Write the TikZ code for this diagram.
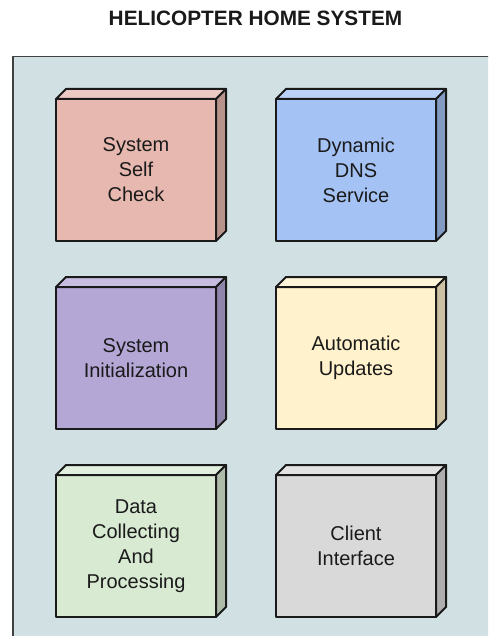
\documentclass[tikz,border=0pt]{standalone}
\usepackage{fontspec}
\setmainfont{Liberation Sans}

\definecolor{panel}{HTML}{D0E0E3}
\definecolor{pinkbox}{HTML}{E6B8AF}
\definecolor{bluebox}{HTML}{A4C2F4}
\definecolor{purplebox}{HTML}{B4A7D6}
\definecolor{yellowbox}{HTML}{FFF2CC}
\definecolor{greenbox}{HTML}{D9EAD3}
\definecolor{graybox}{HTML}{D9D9D9}
\definecolor{inkline}{HTML}{1A1A1A}
\definecolor{inktext}{HTML}{1A1A1A}

% A 3D box: front face as a named node, top and right faces drawn from its anchors
\newcommand\cubebox[4]{%
  \node[boxface, fill=#3] (#1) at (#2) {#4};
  \draw[boxedge, fill=#3!75!white]
    (#1.north west) -- ++(10,-10) -- ++(160,0) -- (#1.north east) -- cycle;
  \draw[boxedge, fill=#3!80!black]
    (#1.north east) -- ++(10,-10) -- ++(0,142) -- (#1.south east) -- cycle;
}

\begin{document}
\begin{tikzpicture}[x=1pt, y=-1pt, line join=round,
  boxedge/.style={draw=inkline, line width=2pt},
  boxface/.style={boxedge, rectangle, minimum width=160pt, minimum height=142pt,
    inner sep=0pt, outer sep=0pt, align=center, text=inktext,
    font=\fontsize{20}{25}\selectfont},
  titletext/.style={font=\bfseries\fontsize{20.8}{24}\selectfont, text=inktext}]

\useasboundingbox (0,0) rectangle (488,636);
\fill[white] (0,0) rectangle (488,636);

% system panel, running off the right and bottom edges
\begin{scope}
  \clip (0,0) rectangle (488,636);
  \draw[fill=panel, draw=black!75, line width=1.8pt] (13,56.5) rectangle (520,700);
\end{scope}

\node[titletext, anchor=base] (title) at (255.5,26) {HELICOPTER HOME SYSTEM};

\cubebox{selfcheck}{136,170}{pinkbox}{System\\Self\\Check}
\cubebox{dns}{356,170}{bluebox}{Dynamic\\DNS\\Service}
\cubebox{init}{136,358}{purplebox}{System\\Initialization}
\cubebox{updates}{356,358}{yellowbox}{Automatic\\Updates}
\cubebox{data}{136,546}{greenbox}{Data\\Collecting\\And\\Processing}
\cubebox{client}{356,546}{graybox}{Client\\Interface}

\end{tikzpicture}
\end{document}
